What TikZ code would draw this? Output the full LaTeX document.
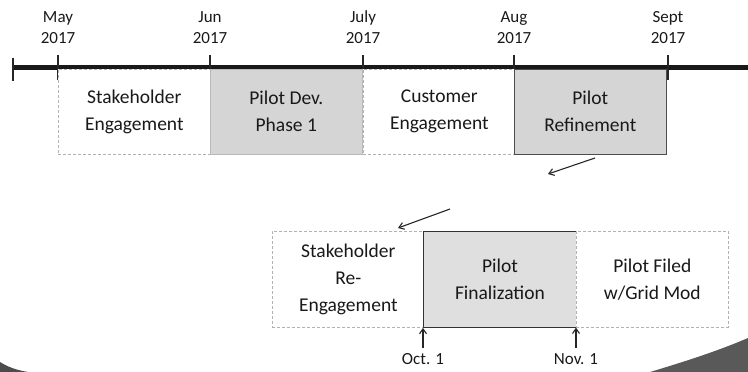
\documentclass[tikz,border=0pt]{standalone}
\usepackage{fontspec}
\setmainfont{Carlito}
\usetikzlibrary{arrows.meta}

\tikzset{
  phase/.style={draw=gray!60, densely dashed, line width=0.6pt, fill=white, anchor=north west,
    minimum width=152pt, minimum height=85pt, align=center, inner sep=0pt,
    font=\fontsize{19.5}{27}\selectfont, text=black!90},
  phasegray/.style={phase, solid, draw=gray!80, fill=gray!33},
  month/.style={align=center, font=\fontsize{17}{21}\selectfont, text=black!90,
    text height=12pt, text depth=4pt},
  tick/.style={line width=1.8pt, black!85},
  flow/.style={->, line width=1.1pt, black!85},
}

\begin{document}
\begin{tikzpicture}[x=1pt, y=-1pt, >={Straight Barb[length=5pt, width=7pt]}]
    \useasboundingbox (0,0) rectangle (748,372);

    % Timeline
    \draw[line width=5pt, black!90] (12,67) -- (748,67);
    \draw[tick] (13,58) -- (13,81);
    \foreach \x in {58,210,363,514,668}
      \draw[tick] (\x,55) -- (\x,80);

    % Months
    \node[month] (may) at (58,39) {May\\2017};
    \node[month] (jun) at (210,39) {Jun\\2017};
    \node[month] (jul) at (363,39) {July\\2017};
    \node[month] (aug) at (514,39) {Aug\\2017};
    \node[month] (sep) at (668,39) {Sept\\2017};

    % --- Summer phases ---
    \node[phase] (stake) at (58,69) {Stakeholder\\Engagement};
    \node[phasegray, draw=gray!55] (dev) at (210,69) {Pilot Dev.\\Phase 1};
    \node[phase] (cust) at (363,69) {Customer\\Engagement};
    \node[phasegray, draw=black!70] (refine) at (514,69) {Pilot\\Refinement};

    % --- Fall phases ---
    \node[phase, minimum height=96pt] (restake) at (272,231) {Stakeholder\\Re-\\Engagement};
    \node[phasegray, minimum width=153pt, minimum height=96pt, draw=black!80, line width=0.9pt, fill=gray!25] (final) at (423,231) {Pilot\\Finalization};
    \node[phase, minimum width=152pt, minimum height=96pt] (filed) at (576,231) {Pilot Filed\\w/Grid Mod};

    % Dates
    \node[month] (oct) at (423,360) {Oct. 1};
    \node[month] (nov) at (576,360) {Nov. 1};
    \draw[flow] (oct.north) -- (final.south west);
    \draw[flow] (nov.north) -- (filed.south west);

    % Flow arrows
    \coordinate (a1) at (595,158);
    \coordinate (b1) at (548,174);
    \coordinate (a2) at (450,209);
    \coordinate (b2) at (398,228);
    \draw[flow] (a1) -- (b1);
    \draw[flow] (a2) -- (b2);

    % Page edge
    \fill[gray!70!black] (650,372) .. controls (690,360) and (720,350) .. (748,338) -- (748,372) -- cycle;
    \fill[gray!60!black] (0,362) .. controls (8,367) and (16,370) .. (28,372) -- (0,372) -- cycle;
\end{tikzpicture}
\end{document}
